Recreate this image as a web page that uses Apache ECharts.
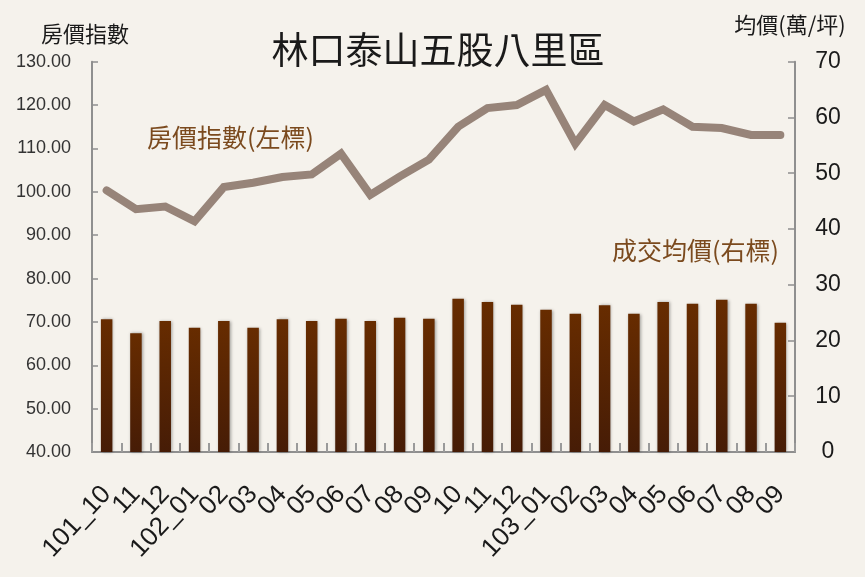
<!DOCTYPE html>
<html>
<head>
<meta charset="utf-8">
<script src="https://cdn.jsdelivr.net/npm/echarts@6/dist/echarts.min.js"></script>
<style>
html,body{margin:0;padding:0;background:#f5f2ec;}
#c{width:865px;height:577px;}
</style>
</head>
<body>
<div id="c"></div>
<script>
const categories = ['101_10','11','12','102_01','02','03','04','05','06','07','08','09','10','11','12','103_01','02','03','04','05','06','07','08','09'];
const indexValues = [100.3,96.0,96.6,93.2,101.1,102.1,103.4,104.0,108.8,99.3,103.5,107.4,115.0,119.3,120.0,123.5,111.1,120.0,116.2,119.0,115.0,114.7,113.1,113.1];
const avgPrices = [23.8,21.3,23.5,22.3,23.5,22.3,23.8,23.5,23.9,23.5,24.1,23.9,27.5,26.9,26.4,25.5,24.8,26.3,24.8,26.9,26.6,27.3,26.6,23.2];
const leftTitle = '房價指數';
const rightTitle = '均價(萬/坪)';
const chartTitle = '林口泰山五股八里區';
const lineLabel = '房價指數(左標)';
const barLabel = '成交均價(右標)';

const chart = echarts.init(document.getElementById('c'), null, {renderer:'canvas'});
const latin = '"Liberation Sans", sans-serif';
const cjk = '"Noto Sans CJK TC", "Noto Sans CJK SC", sans-serif';
chart.setOption({
  backgroundColor:'#f5f2ec',
  animation:false,
  title:{
    text: chartTitle, left: 433, top: 26, textAlign:'center',
    textStyle:{fontFamily:cjk, fontSize:37, fontWeight:'normal', color:'#1a1a1a'}
  },
  grid:{left:92, right:70, top:61.7, bottom:125, containLabel:false},
  xAxis:{
    type:'category', data:categories, boundaryGap:true,
    axisLine:{lineStyle:{color:'#8f8f8f', width:2}},
    axisTick:{show:true, inside:true, length:9, interval:0, lineStyle:{color:'#9a9a9a', width:2}},
    axisLabel:{interval:0, rotate:47, margin:38, fontFamily:latin, fontSize:26, color:'#1a1a1a'}
  },
  yAxis:[{
    type:'value', min:40, max:130, interval:10, position:'left',
    name:leftTitle, nameLocation:'end', nameGap:28,
    nameTextStyle:{fontFamily:cjk, fontSize:22, color:'#1a1a1a', align:'center', verticalAlign:'middle', padding:[0,14,0,0]},
    axisLine:{show:true, lineStyle:{color:'#8f8f8f', width:2}},
    axisTick:{show:true, inside:true, length:6, lineStyle:{color:'#8f8f8f', width:1.5}},
    splitLine:{show:false},
    axisLabel:{margin:21, fontFamily:latin, fontSize:18, color:'#333', formatter:v=>v.toFixed(2)}
  },{
    type:'value', min:0, max:70, interval:10, position:'right',
    name:rightTitle, nameLocation:'end', nameGap:37,
    nameTextStyle:{fontFamily:cjk, fontSize:22, color:'#1a1a1a', align:'center', verticalAlign:'middle', padding:[0,10,0,0]},
    axisLine:{show:true, lineStyle:{color:'#8f8f8f', width:2}},
    axisTick:{show:true, inside:true, length:7, lineStyle:{color:'#8f8f8f', width:1.5}},
    splitLine:{show:false},
    axisLabel:{margin:33, align:'center', fontFamily:latin, fontSize:23, color:'#1a1a1a'}
  }],
  series:[{
    name:barLabel, type:'bar', yAxisIndex:1, data:avgPrices, barWidth:11.5,
    itemStyle:{
      color:new echarts.graphic.LinearGradient(0,0,0,1,[{offset:0,color:'#672c00'},{offset:1,color:'#461c06'}]),
      shadowColor:'rgba(0,0,0,0.35)', shadowBlur:3, shadowOffsetX:1, shadowOffsetY:0
    }
  },{
    name:lineLabel, type:'line', yAxisIndex:0, data:indexValues,
    symbol:'none', smooth:false,
    lineStyle:{color:'#978479', width:8, cap:'round', join:'miter'}
  }],
  graphic:[{
    type:'text', left:147, top:125,
    style:{text:lineLabel, fontFamily:cjk, fontSize:25, fill:'#7b4a1e'}
  },{
    type:'text', left:612, top:238,
    style:{text:barLabel, fontFamily:cjk, fontSize:25, fill:'#7b4a1e'}
  }]
});
</script>
</body>
</html>
